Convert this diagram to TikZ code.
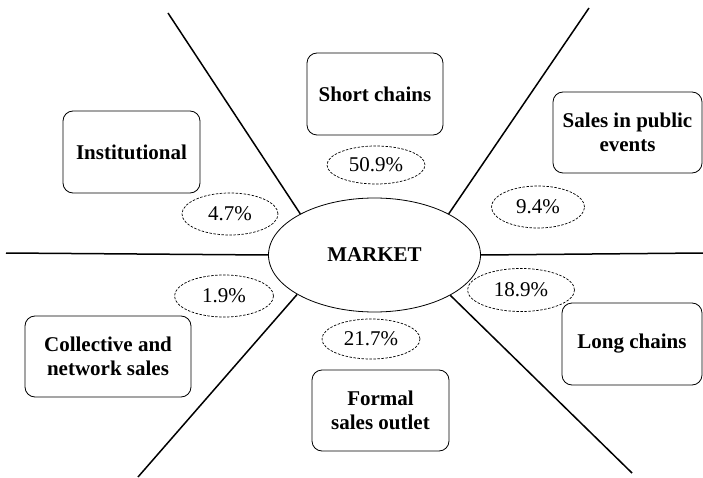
\documentclass[tikz,border=0pt]{standalone}
\usepackage{fontspec}
\setmainfont{Liberation Serif}
\usetikzlibrary{shapes.geometric}
\begin{document}
\begin{tikzpicture}[x=1pt,y=-1pt,
    channel/.style={draw,rounded corners=10pt,line width=0.8pt,align=center,
      inner sep=0pt,font=\fontsize{21}{24}\selectfont\bfseries},
    share/.style={draw,ellipse,dash pattern=on 2.5pt off 1.5pt,line width=0.7pt,
      inner sep=0pt,font=\fontsize{21}{24}\selectfont},
    spoke/.style={line width=1.5pt}]
  \useasboundingbox (0,0) rectangle (703,478);
  \node[draw,ellipse,line width=0.8pt,minimum width=212pt,minimum height=114pt,
    inner sep=0pt,font=\fontsize{21}{24}\selectfont\bfseries] (market) at (374.5,255) {MARKET};
  \node[channel,minimum width=136pt,minimum height=82pt] (short) at (375,94) {Short chains};
  \node[channel,minimum width=137pt,minimum height=82pt] (inst) at (131.5,152) {Institutional};
  \node[channel,minimum width=149pt,minimum height=81pt] (events) at (627.5,132.5) {Sales in public\\events};
  \node[channel,minimum width=140pt,minimum height=82pt] (long) at (632,344) {Long chains};
  \node[channel,minimum width=137pt,minimum height=81pt] (formal) at (380.5,410.5) {Formal\\sales outlet};
  \node[channel,minimum width=166pt,minimum height=81pt] (network) at (108,356.5) {Collective and\\network sales};
  \node[share,minimum width=98pt,minimum height=38pt] (p509) at (376,165) {50.9\%};
  \node[share,minimum width=96pt,minimum height=42pt] (p47) at (230,214) {4.7\%};
  \node[share,minimum width=93pt,minimum height=42pt] (p94) at (538,207) {9.4\%};
  \node[share,minimum width=107pt,minimum height=43pt] (p189) at (521,290) {18.9\%};
  \node[share,minimum width=99pt,minimum height=42pt] (p19) at (224,296) {1.9\%};
  \node[share,minimum width=98pt,minimum height=40pt] (p217) at (371,339) {21.7\%};
  \coordinate (tl) at (168,13);
  \coordinate (tr) at (589,8);
  \coordinate (rr) at (703,253);
  \coordinate (br) at (632,473);
  \coordinate (bl) at (138,477);
  \coordinate (ll) at (6,253);
  \begin{scope}[spoke]
    \draw (market.151) to (tl);
    \draw (market.29) to (tr);
    \draw (market.east) to (rr);
    \draw (market.-28) to (br);
    \draw (market.207.6) to (bl);
    \draw (market.west) to (ll);
  \end{scope}
\end{tikzpicture}
\end{document}
